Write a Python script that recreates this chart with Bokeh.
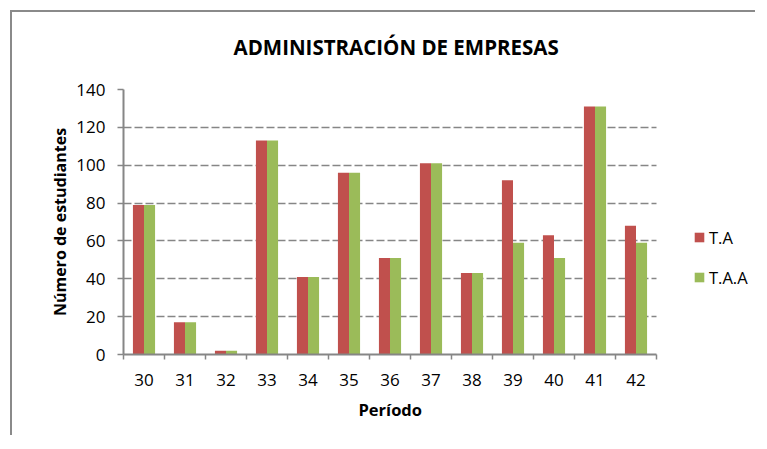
from bokeh.plotting import figure
from bokeh.models import (ColumnDataSource, FixedTicker, Legend, LegendItem,
                          Range1d, Title)
from bokeh.transform import dodge
from bokeh.embed import file_html
from bokeh.resources import INLINE

# ---- data ----
periods = [30, 31, 32, 33, 34, 35, 36, 37, 38, 39, 40, 41, 42]
ta = [79, 17, 2, 113, 41, 96, 51, 101, 43, 92, 63, 131, 68]
taa = [79, 17, 2, 113, 41, 96, 51, 101, 43, 59, 51, 131, 59]
y_ticks = [0, 20, 40, 60, 80, 100, 120, 140]
series_names = ["T.A", "T.A.A"]
title_text = "ADMINISTRACIÓN DE EMPRESAS"
x_label = "Período"
y_label = "Número de estudiantes"

RED = "#C0504D"
GREEN = "#9BBB59"
GRAY = "#868686"
FONT = "Open Sans"

n = len(periods)
idx = list(range(n))
src = ColumnDataSource(dict(x=idx, ta=ta, taa=taa))

# layout: canvas starts at page (12, 12); frame from page x 123 .. 752
CAT_PX = 41.0
FRAME_W = 752 - 123
x_end = -0.5 + FRAME_W / CAT_PX   # room to the right of the categories for the legend
cat_bounds = (-0.5, n - 0.5)

p = figure(width=745, height=425, output_backend="svg", toolbar_location=None,
           x_range=Range1d(-0.5, x_end),
           y_range=Range1d(y_ticks[0], y_ticks[-1]),
           min_border_left=111, min_border_right=5,
           min_border_top=77, min_border_bottom=83)
p.styles = {"margin-left": "10px", "margin-top": "10px",
            "border-left": "2px solid #8A8A8A", "border-top": "2px solid #8A8A8A"}
p.outline_line_color = None
p.background_fill_color = "white"
p.border_fill_color = "white"

r1 = p.vbar(x=dodge("x", -0.135, range=p.x_range), top="ta", width=0.27,
            source=src, fill_color=RED, line_color=None)
r2 = p.vbar(x=dodge("x", 0.135, range=p.x_range), top="taa", width=0.27,
            source=src, fill_color=GREEN, line_color=None)

# main title (outermost slot) with a blank spacer between it and the frame
p.title.text = title_text
p.title.align = "left"
p.title.offset = 110
p.title.standoff = 0
p.title.text_font = FONT
p.title.text_font_size = "20.5px"
p.title.text_font_style = "bold"
p.title.text_color = "black"
spacer = Title(text=" ", text_font_size="10px", standoff=16)
p.add_layout(spacer, "above")

# x axis
xa = p.xaxis[0]
xa.bounds = cat_bounds
xa.ticker = FixedTicker(ticks=idx, minor_ticks=[i - 0.5 for i in range(n + 1)])
xa.major_label_overrides = {i: str(v) for i, v in zip(idx, periods)}
xa.major_tick_in = 0
xa.major_tick_out = 0
xa.minor_tick_in = 0
xa.minor_tick_out = 5
xa.minor_tick_line_color = GRAY
xa.minor_tick_line_width = 1.5
xa.axis_line_color = GRAY
xa.axis_line_width = 2
xa.major_label_text_font = FONT
xa.major_label_text_font_size = "17px"
xa.major_label_text_color = "black"
xa.major_label_standoff = 14

x_title = Title(text=x_label, align="left", offset=235, standoff=14,
                text_font=FONT, text_font_size="16.5px", text_font_style="bold",
                text_color="black")
p.add_layout(x_title, "below")

# y axis
ya = p.yaxis[0]
ya.ticker = FixedTicker(ticks=y_ticks)
ya.major_tick_in = 0
ya.major_tick_out = 6
ya.major_tick_line_color = GRAY
ya.major_tick_line_width = 1.5
ya.minor_tick_line_color = None
ya.axis_line_color = GRAY
ya.axis_line_width = 2
ya.major_label_text_font = FONT
ya.major_label_text_font_size = "17px"
ya.major_label_text_color = "black"
ya.major_label_standoff = 12
ya.axis_label = y_label
ya.axis_label_text_font = FONT
ya.axis_label_text_font_size = "16px"
ya.axis_label_text_font_style = "bold"
ya.axis_label_text_color = "black"
ya.axis_label_standoff = 2

p.xgrid.grid_line_color = None
p.ygrid.ticker = FixedTicker(ticks=y_ticks[1:])
p.ygrid.cross_bounds = cat_bounds
p.ygrid.grid_line_color = GRAY
p.ygrid.grid_line_width = 1.6
p.ygrid.grid_line_dash = "8 3"

legend = Legend(items=[LegendItem(label=series_names[0], renderers=[r1]),
                       LegendItem(label=series_names[1], renderers=[r2])],
                location=(570, 65), orientation="vertical",
                glyph_width=12, glyph_height=12, label_standoff=4,
                label_height=24, spacing=16, padding=0, margin=0,
                border_line_color=None, background_fill_alpha=0,
                label_text_font=FONT, label_text_font_size="16.5px",
                label_text_color="black")
p.add_layout(legend, "center")

open("out.html", "w").write(file_html(p, INLINE))
